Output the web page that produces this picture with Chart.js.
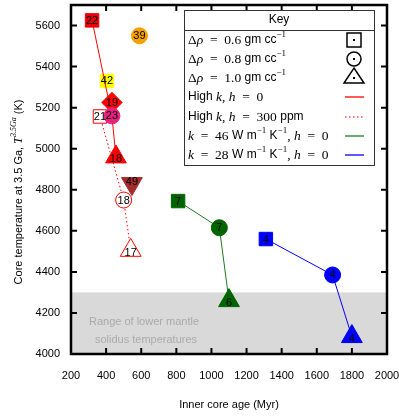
<!DOCTYPE html>
<html>
<head>
<meta charset="utf-8">
<script src="https://cdn.jsdelivr.net/npm/chart.js@4.4.0/dist/chart.umd.min.js"></script>
<style>
  html, body { margin: 0; padding: 0; background: #fff; }
  #wrap { width: 399px; height: 416px; }
</style>
</head>
<body>
<div id="wrap"><canvas id="coreChart" width="399" height="416"></canvas></div>
<script>
// High k, h = 0 (solid red)
var highKAge = [320, 433, 456];
var highKTemp = [5625, 5160, 4960];
var highKTags = ['22', '23', '18'];
// High k, h = 300 ppm (dotted red)
var highKhAge = [365, 500, 540];
var highKhTemp = [5157, 4750, 4505];
var highKhTags = ['21', '18', '17'];
// k = 46 W/m/K, h = 0
var k46Age = [810, 1045, 1100];
var k46Temp = [4745, 4615, 4260];
var k46Tags = ['7', '7', '6'];
// k = 28 W/m/K, h = 0
var k28Age = [1310, 1690, 1800];
var k28Temp = [4560, 4385, 4085];
var k28Tags = ['4', '4', '4'];
// other runs, no line
var otherAge = [590, 405, 433, 547];
var otherTemp = [5550, 5330, 5225, 4830];
var otherTags = ['39', '42', '19', '49'];

var xTicks = [200, 400, 600, 800, 1000, 1200, 1400, 1600, 1800, 2000];
var yTicks = [4000, 4200, 4400, 4600, 4800, 5000, 5200, 5400, 5600];
var solidusRange = [4000, 4300];

var SANS = '"Liberation Sans", Arial, sans-serif';
var SERIF = '"Liberation Serif", "DejaVu Serif", serif';
var FONTS = {
  sans: '11px ' + SANS,
  ksans: '12px ' + SANS,
  rm: '13.5px ' + SERIF,
  it: 'italic 13.5px ' + SERIF,
  sup: '9px ' + SERIF,
  supit: 'italic 8px ' + SERIF,
  tit: 'italic 12px ' + SERIF
};
var SIZE = { circle: 8, rect: 9.5, triangle: 12, rectRot: 10.5 };
var EQ = '\u2002=\u2002';

function pts(xs, ys) {
  return xs.map(function(x, i) { return { x: x, y: ys[i] }; });
}
function radii(styles) {
  return styles.map(function(s) { return SIZE[s]; });
}

function richWidth(ctx, segs) {
  var w = 0;
  segs.forEach(function(s) { ctx.font = FONTS[s.f]; w += ctx.measureText(s.t).width; });
  return w;
}
function rich(ctx, segs, x, y) {
  var cx = x;
  segs.forEach(function(s) {
    ctx.font = FONTS[s.f];
    var up = (s.f === 'sup' || s.f === 'supit') ? -5 : 0;
    ctx.fillText(s.t, cx, y + up);
    cx += ctx.measureText(s.t).width;
  });
}

var styles1 = ['rect', 'circle', 'triangle'];
var otherStyles = ['circle', 'rect', 'rectRot', 'triangle'];

var datasets = [
  {
    data: pts(highKAge, highKTemp), tags: highKTags, showLine: true,
    borderColor: '#ff0000', borderWidth: 1,
    pointStyle: styles1, pointRadius: radii(styles1),
    pointBackgroundColor: ['#e8000b', '#e8217f', '#ff0000'],
    pointBorderColor: ['#e8000b', '#e8217f', '#ff0000'], pointBorderWidth: 1
  },
  {
    data: pts(otherAge, otherTemp), tags: otherTags, showLine: false,
    pointStyle: otherStyles, pointRadius: radii(otherStyles),
    pointRotation: [0, 0, 0, 180],
    pointBackgroundColor: ['#f5a000', '#ffff00', '#ff0000', '#a52a2a'],
    pointBorderColor: ['#f5a000', '#ffff00', '#ff4040', '#a52a2a'], pointBorderWidth: 1
  },
  {
    data: pts(highKhAge, highKhTemp), tags: highKhTags, showLine: true,
    borderColor: '#ff0000', borderWidth: 1, borderDash: [1.5, 2.5],
    pointStyle: styles1, pointRadius: radii(styles1),
    pointBackgroundColor: '#ffffff', pointBorderColor: '#ff0000', pointBorderWidth: 1
  },
  {
    data: pts(k46Age, k46Temp), tags: k46Tags, showLine: true,
    borderColor: '#1e7a1e', borderWidth: 1,
    pointStyle: styles1, pointRadius: radii(styles1),
    pointBackgroundColor: '#006400', pointBorderColor: '#006400', pointBorderWidth: 1
  },
  {
    data: pts(k28Age, k28Temp), tags: k28Tags, showLine: true,
    borderColor: '#0000ff', borderWidth: 1,
    pointStyle: styles1, pointRadius: radii(styles1),
    pointBackgroundColor: '#0000ff', pointBorderColor: '#0000ff', pointBorderWidth: 1
  }
];

// grey band for lower mantle solidus
var bandPlugin = {
  id: 'band',
  beforeDatasetsDraw: function(chart) {
    var ctx = chart.ctx, a = chart.chartArea, y = chart.scales.y;
    var top = y.getPixelForValue(solidusRange[1]);
    var bot = y.getPixelForValue(solidusRange[0]);
    ctx.save();
    ctx.fillStyle = '#d9d9d9';
    ctx.fillRect(a.left, top, a.right - a.left, bot - top);
    ctx.fillStyle = '#aaaaaa';
    ctx.font = FONTS.sans;
    ctx.textAlign = 'center';
    ctx.textBaseline = 'middle';
    ctx.fillText('Range of lower mantle', 144, 322);
    ctx.fillText('solidus temperatures', 146, 340);
    ctx.restore();
  }
};

// numbers inside the markers
var tagPlugin = {
  id: 'tags',
  afterDatasetsDraw: function(chart) {
    var ctx = chart.ctx;
    ctx.save();
    ctx.font = FONTS.sans;
    ctx.fillStyle = '#000';
    ctx.textAlign = 'center';
    ctx.textBaseline = 'middle';
    chart.data.datasets.forEach(function(ds, i) {
      var meta = chart.getDatasetMeta(i);
      meta.data.forEach(function(p, j) {
        var st = Array.isArray(ds.pointStyle) ? ds.pointStyle[j] : ds.pointStyle;
        var rot = ds.pointRotation ? ds.pointRotation[j] : 0;
        var dy = st === 'triangle' ? (rot ? -2 : 2) : 0;
        ctx.fillText(ds.tags[j], p.x, p.y + dy + 0.5);
      });
    });
    ctx.restore();
  }
};

// frame, inward ticks, y title and key box
var framePlugin = {
  id: 'frame',
  afterDraw: function(chart) {
    var ctx = chart.ctx, a = chart.chartArea, xs = chart.scales.x, ys = chart.scales.y;
    ctx.save();
    ctx.strokeStyle = '#000';
    ctx.lineWidth = 2;
    xTicks.forEach(function(v) {
      var px = xs.getPixelForValue(v);
      ctx.beginPath();
      ctx.moveTo(px, a.bottom); ctx.lineTo(px, a.bottom - 6);
      ctx.moveTo(px, a.top); ctx.lineTo(px, a.top + 6);
      ctx.stroke();
    });
    yTicks.forEach(function(v) {
      var py = ys.getPixelForValue(v);
      ctx.beginPath();
      ctx.moveTo(a.left, py); ctx.lineTo(a.left + 6, py);
      ctx.moveTo(a.right, py); ctx.lineTo(a.right - 6, py);
      ctx.stroke();
    });
    ctx.lineWidth = 2.5;
    ctx.strokeRect(a.left, a.top, a.right - a.left, a.bottom - a.top);

    // y axis title
    var ytitle = [
      { t: 'Core temperature at 3.5 Ga, ', f: 'sans' },
      { t: 'T', f: 'tit' }, { t: '3.5', f: 'supit' }, { t: 'Ga', f: 'supit' },
      { t: ' (K)', f: 'sans' }
    ];
    ctx.fillStyle = '#000';
    ctx.textBaseline = 'middle';
    ctx.textAlign = 'left';
    ctx.save();
    ctx.translate(19, 192);
    ctx.rotate(-Math.PI / 2);
    rich(ctx, ytitle, -richWidth(ctx, ytitle) / 2, 0);
    ctx.restore();

    // key box
    var bx = 184.5, by = 10.5, bw = 190, bh = 155;
    ctx.fillStyle = '#fff';
    ctx.fillRect(bx, by, bw, bh);
    ctx.lineWidth = 1;
    ctx.strokeStyle = '#333';
    ctx.strokeRect(bx, by, bw, bh);
    ctx.beginPath(); ctx.moveTo(bx, 30.5); ctx.lineTo(bx + bw, 30.5); ctx.stroke();
    ctx.fillStyle = '#000';
    ctx.font = FONTS.ksans;
    ctx.textAlign = 'center';
    ctx.fillText('Key', 279, 20);
    ctx.textAlign = 'left';

    var rows = [
      [{ t: 'Δ', f: 'rm' }, { t: 'ρ', f: 'it' }, { t: EQ + '0.6 ', f: 'rm' }, { t: 'gm cc', f: 'ksans' }, { t: '−1', f: 'sup' }],
      [{ t: 'Δ', f: 'rm' }, { t: 'ρ', f: 'it' }, { t: EQ + '0.8 ', f: 'rm' }, { t: 'gm cc', f: 'ksans' }, { t: '−1', f: 'sup' }],
      [{ t: 'Δ', f: 'rm' }, { t: 'ρ', f: 'it' }, { t: EQ + '1.0 ', f: 'rm' }, { t: 'gm cc', f: 'ksans' }, { t: '−1', f: 'sup' }],
      [{ t: 'High ', f: 'ksans' }, { t: 'k', f: 'it' }, { t: ', ', f: 'rm' }, { t: 'h', f: 'it' }, { t: EQ + '0', f: 'rm' }],
      [{ t: 'High ', f: 'ksans' }, { t: 'k', f: 'it' }, { t: ', ', f: 'rm' }, { t: 'h', f: 'it' }, { t: EQ + '300 ', f: 'rm' }, { t: 'ppm', f: 'ksans' }],
      [{ t: 'k', f: 'it' }, { t: EQ + '46 ', f: 'rm' }, { t: 'W m', f: 'ksans' }, { t: '−1', f: 'sup' }, { t: ' K', f: 'ksans' }, { t: '−1', f: 'sup' }, { t: ', ', f: 'rm' }, { t: 'h', f: 'it' }, { t: EQ + '0', f: 'rm' }],
      [{ t: 'k', f: 'it' }, { t: EQ + '28 ', f: 'rm' }, { t: 'W m', f: 'ksans' }, { t: '−1', f: 'sup' }, { t: ' K', f: 'ksans' }, { t: '−1', f: 'sup' }, { t: ', ', f: 'rm' }, { t: 'h', f: 'it' }, { t: EQ + '0', f: 'rm' }]
    ];
    var rowY = [40, 59, 78, 97, 117, 136, 155];
    rows.forEach(function(r, i) { rich(ctx, r, 188, rowY[i]); });

    // key symbols
    var sx = 354;
    ctx.strokeStyle = '#000';
    ctx.lineWidth = 1.5;
    ctx.strokeRect(sx - 7, rowY[0] - 7, 14, 14);
    ctx.beginPath(); ctx.arc(sx, rowY[1], 7, 0, Math.PI * 2); ctx.stroke();
    ctx.beginPath();
    ctx.moveTo(sx, rowY[2] - 10); ctx.lineTo(sx + 10, rowY[2] + 5); ctx.lineTo(sx - 10, rowY[2] + 5);
    ctx.closePath(); ctx.stroke();
    [rowY[0], rowY[1], rowY[2]].forEach(function(yy) {
      ctx.fillRect(sx - 1, yy - 1, 2, 2);
    });
    var lines = [['#ff0000', []], ['#ff5050', [1.5, 2.5]], ['#1e7a1e', []], ['#0000ff', []]];
    lines.forEach(function(l, i) {
      ctx.strokeStyle = l[0];
      ctx.lineWidth = 1.3;
      ctx.setLineDash(l[1]);
      ctx.beginPath();
      ctx.moveTo(345, rowY[3 + i]); ctx.lineTo(364, rowY[3 + i]);
      ctx.stroke();
    });
    ctx.setLineDash([]);
    ctx.restore();
  }
};

function plain(v) { return String(v); }

var ctx = document.getElementById('coreChart').getContext('2d');
var chart = new Chart(ctx, {
  type: 'scatter',
  data: { datasets: datasets },
  options: {
    responsive: false,
    animation: false,
    layout: { autoPadding: false, padding: { top: 5, right: 12, left: 0, bottom: 0 } },
    plugins: { legend: { display: false }, tooltip: { enabled: false } },
    scales: {
      x: {
        type: 'linear', min: 200, max: 2000,
        afterBuildTicks: function(s) { s.ticks = xTicks.map(function(v) { return { value: v }; }); },
        afterFit: function(s) { s.height = 62; s.paddingLeft = 0; s.paddingRight = 0; },
        grid: { display: false, drawTicks: false },
        border: { display: false },
        ticks: { color: '#000', font: { family: SANS, size: 11 }, padding: 15, maxRotation: 0, callback: plain },
        title: { display: true, text: 'Inner core age (Myr)', color: '#000', font: { family: SANS, size: 11 }, padding: { top: 0, bottom: 4 } }
      },
      y: {
        type: 'linear', min: 4000, max: 5700,
        afterBuildTicks: function(s) { s.ticks = yTicks.map(function(v) { return { value: v }; }); },
        afterFit: function(s) { s.width = 71; s.paddingTop = 0; s.paddingBottom = 0; },
        grid: { display: false, drawTicks: false },
        border: { display: false },
        ticks: { color: '#000', font: { family: SANS, size: 11 }, padding: 11, callback: plain }
      }
    }
  },
  plugins: [bandPlugin, tagPlugin, framePlugin]
});
</script>
</body>
</html>
